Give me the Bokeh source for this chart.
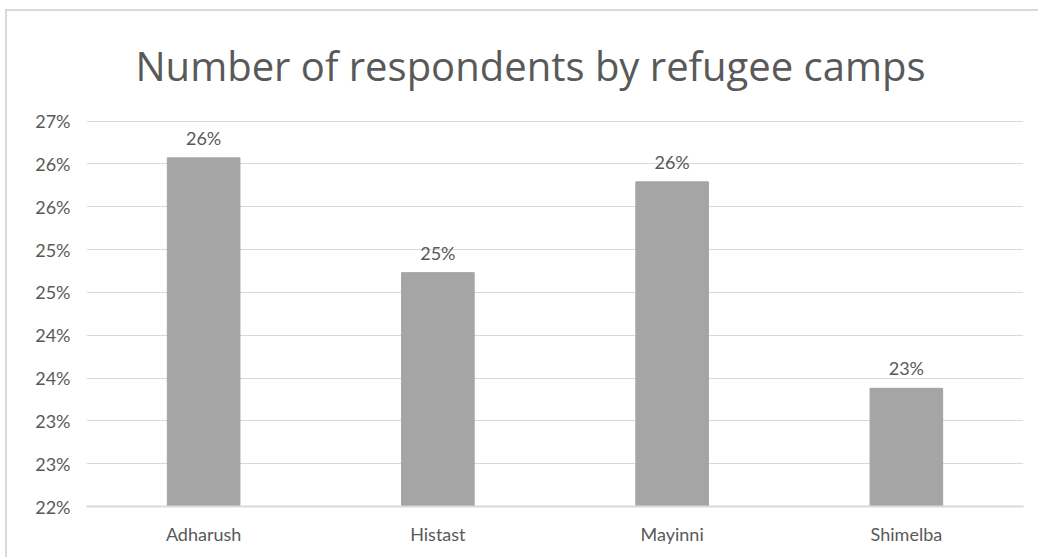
from bokeh.plotting import figure
from bokeh.models import FixedTicker, ColumnDataSource
from bokeh.core.properties import value
from bokeh.embed import file_html
from bokeh.resources import INLINE

title_text = "Number of respondents by refugee camps"
camps = ["Adharush", "Histast", "Mayinni", "Shimelba"]
shares = [26.07, 24.73, 25.79, 23.38]
y_ticks = [22.0, 22.5, 23.0, 23.5, 24.0, 24.5, 25.0, 25.5, 26.0, 26.5]
y_tick_labels = ["22%", "23%", "23%", "24%", "24%", "25%", "25%", "26%", "26%", "27%"]
bar_labels = ["26%", "25%", "26%", "23%"]

FONT = "Lato"
TXT = "#595959"
GRID = "#D9D9D9"

p = figure(width=1033, height=548, x_range=camps, y_range=(22.0, 26.506),
           output_backend="svg", toolbar_location=None,
           min_border_left=79, min_border_right=17, min_border_top=109, min_border_bottom=53)
p.margin = (11, 0, 0, 7)
p.styles = {"box-shadow": "-2px -2px 0 0 #D9D9D9"}
p.x_range.range_padding = 0
p.outline_line_color = None
p.background_fill_color = "white"
p.border_fill_color = "white"

p.title.text = title_text
p.title.align = "left"
p.title.offset = 49
p.title.standoff = 52
p.title.vertical_align = "top"
p.title.text_font = "Open Sans"
p.title.text_font_size = "40px"
p.title.text_font_style = "normal"
p.title.text_color = TXT

src = ColumnDataSource(dict(camp=camps, share=shares, lab=bar_labels))
p.vbar(x="camp", top="share", bottom=22.0, width=0.31, color="#A5A5A5", source=src)
p.text(x="camp", y="share", text="lab", source=src, text_align="center",
       text_baseline="alphabetic", y_offset=-20, text_font=value(FONT),
       text_font_size="18px", text_color=TXT)

p.yaxis.ticker = FixedTicker(ticks=y_ticks)
p.yaxis.major_label_overrides = {t: l for t, l in zip(y_ticks, y_tick_labels)}
p.yaxis.axis_line_color = None
p.yaxis.major_tick_line_color = None
p.yaxis.minor_tick_line_color = None
p.yaxis.major_label_standoff = 10
p.yaxis.major_label_text_font = FONT
p.yaxis.major_label_text_font_size = "18px"
p.yaxis.major_label_text_color = TXT

p.xaxis.axis_line_color = GRID
p.xaxis.axis_line_width = 2
p.xaxis.major_tick_line_color = None
p.xaxis.minor_tick_line_color = None
p.xaxis.major_label_standoff = 10
p.xaxis.major_label_text_font = FONT
p.xaxis.major_label_text_font_size = "18px"
p.xaxis.major_label_text_color = TXT

p.xgrid.grid_line_color = None
p.ygrid.grid_line_color = GRID
p.ygrid.grid_line_width = 1

open("out.html", "w").write(file_html(p, INLINE))
